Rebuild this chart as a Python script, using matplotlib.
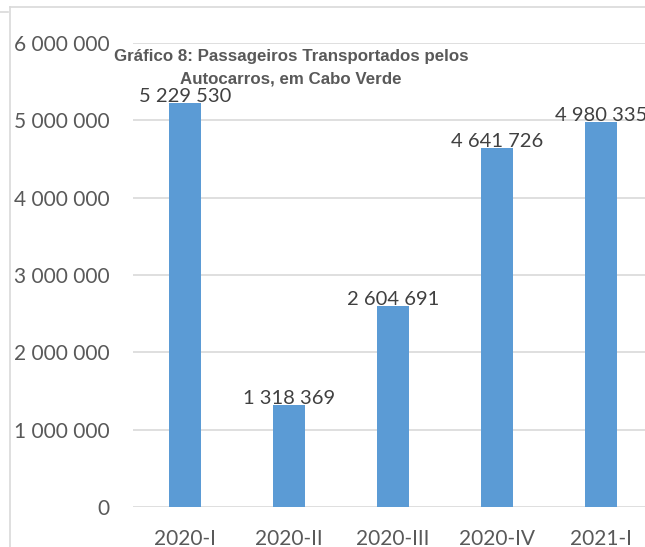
import matplotlib.pyplot as plt
from matplotlib.lines import Line2D
from matplotlib.ticker import FuncFormatter

# dados do gráfico
categorias = ["2020-I", "2020-II", "2020-III", "2020-IV", "2021-I"]
passageiros = [5229530, 1318369, 2604691, 4641726, 4980335]
y_ticks = [0, 1000000, 2000000, 3000000, 4000000, 5000000, 6000000]

TITULO_L1 = "Gráfico 8: Passageiros Transportados pelos"
TITULO_L2 = "Autocarros, em Cabo Verde"
COR_BARRA = "#5B9BD5"
COR_TEXTO = "#595959"
COR_GRELHA = "#D9D9D9"
FONTE = ["Lato", "DejaVu Sans"]
TAMANHO = 15


def fmt_espaco(v, pos=None):
    return f"{int(v):,}".replace(",", " ")


fig = plt.figure(figsize=(6.45, 5.47), dpi=100)
ax = fig.add_axes([133 / 645, 1 - 507 / 547, 520 / 645, (507 - 43) / 547])

x = range(len(categorias))
ax.bar(x, passageiros, width=0.31, color=COR_BARRA, zorder=3)

for xi, v in zip(x, passageiros):
    ax.text(xi, v + 12000, fmt_espaco(v), ha="center", va="baseline",
            fontsize=14.5, color="#404040", family=FONTE)

ax.set_xlim(-0.5, len(categorias) - 0.5)
ax.set_ylim(0, 6000000)
ax.set_yticks(y_ticks)
ax.yaxis.set_major_formatter(FuncFormatter(fmt_espaco))
ax.set_xticks(list(x))
ax.set_xticklabels(categorias)

ax.grid(axis="y", color=COR_GRELHA, linewidth=1.2, zorder=0)
for lado in ["top", "right", "left", "bottom"]:
    ax.spines[lado].set_visible(False)
ax.tick_params(axis="both", length=0, labelsize=TAMANHO, labelcolor=COR_TEXTO)
ax.tick_params(axis="y", pad=17)
ax.tick_params(axis="x", pad=16)
for lbl in ax.get_xticklabels() + ax.get_yticklabels():
    lbl.set_family(FONTE)

# título em duas linhas, centrado sobre a área do gráfico
for linha, y_px in [(TITULO_L1, 61), (TITULO_L2, 83)]:
    fig.text(291 / 645, 1 - y_px / 547, linha, ha="center", va="baseline",
             fontsize=12.2, fontweight="bold", color=COR_TEXTO,
             family=["Liberation Sans", "DejaVu Sans"])

# moldura do gráfico
fig.add_artist(Line2D([10 / 645, 10 / 645], [0, 1 - 7 / 547],
                      color=COR_GRELHA, linewidth=1.2))
fig.add_artist(Line2D([10 / 645, 1], [1 - 7 / 547, 1 - 7 / 547],
                      color=COR_GRELHA, linewidth=1.2))
fig.add_artist(Line2D([0, 8 / 645], [1 - 12 / 547, 1 - 12 / 547],
                      color=COR_GRELHA, linewidth=1.2))

fig.savefig("out.png", dpi=100)
